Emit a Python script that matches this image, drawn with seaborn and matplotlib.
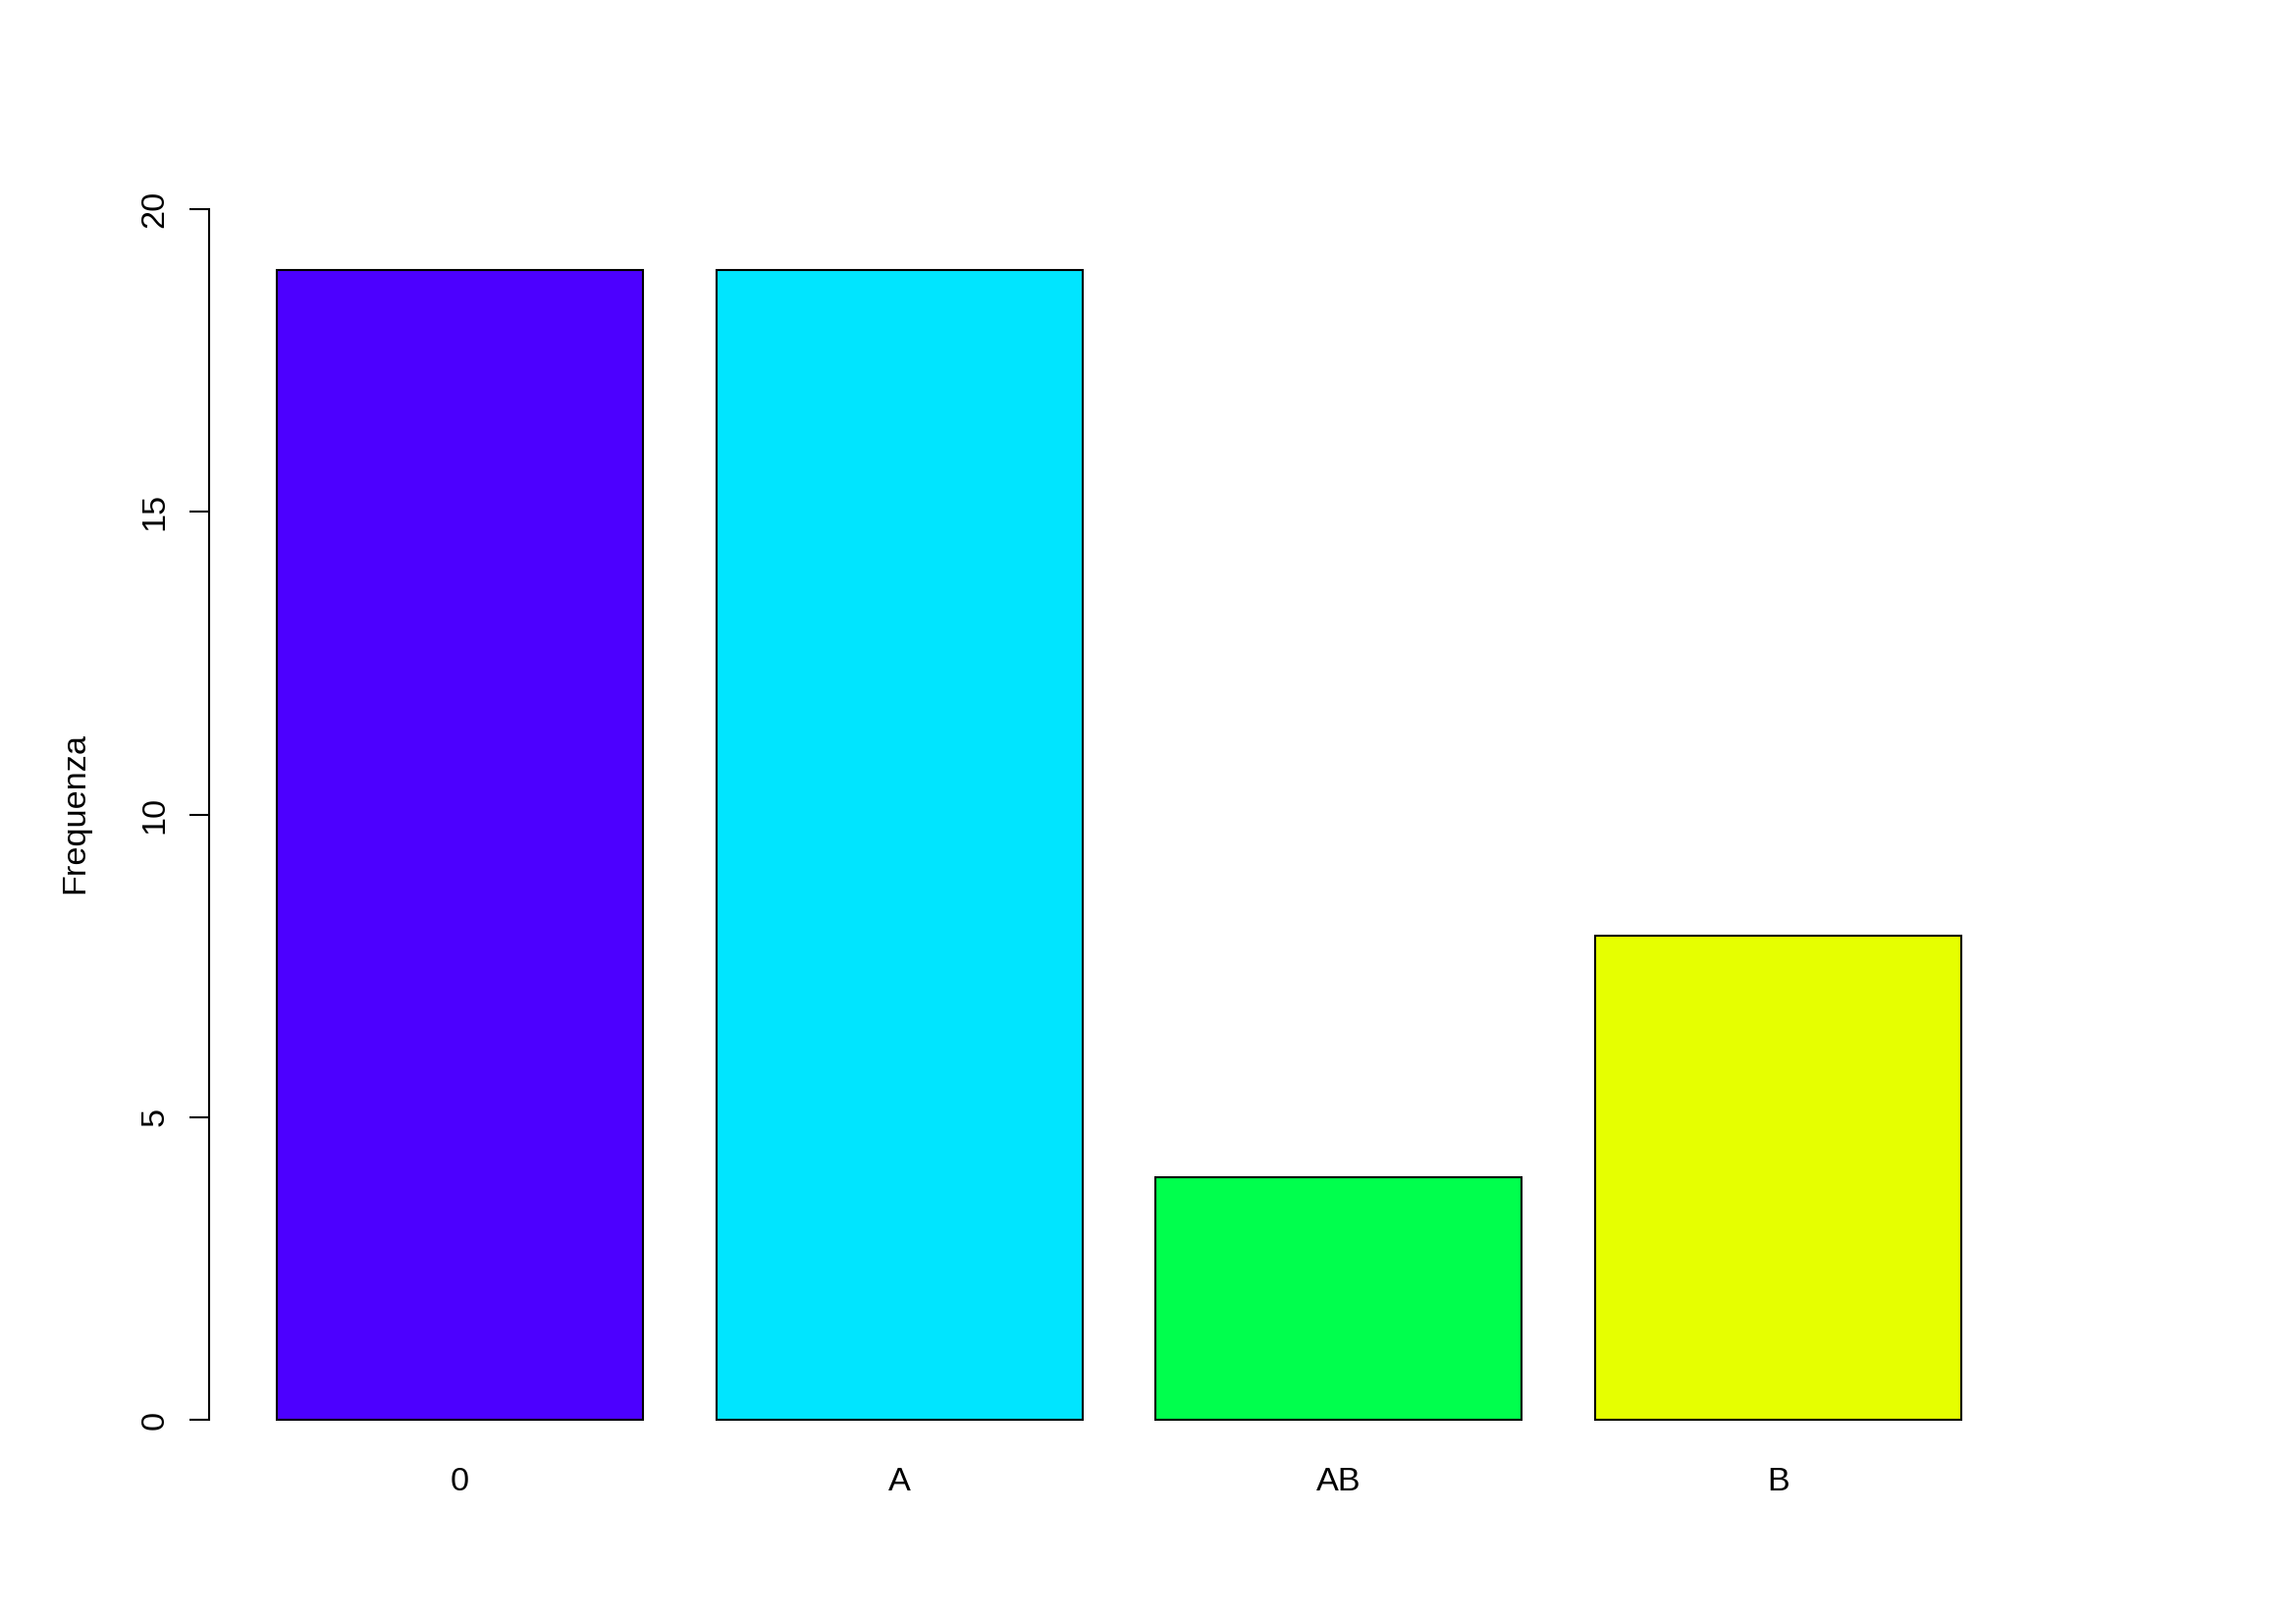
import matplotlib
matplotlib.use("Agg")
import matplotlib.pyplot as plt
import seaborn as sns
import pandas as pd

categories = ["0", "A", "AB", "B"]
values = [19, 19, 4, 8]
colors = ["#4C00FF", "#00E5FF", "#00FF4D", "#E6FF00"]
yticks = [0, 5, 10, 15, 20]
ylabel = "Frequenza"

sns.set_theme(style="white")
plt.rcParams['font.family'] = ['Liberation Sans', 'DejaVu Sans']
plt.rcParams['text.color'] = 'black'
plt.rcParams['xtick.color'] = 'black'
plt.rcParams['ytick.color'] = 'black'
plt.rcParams['axes.labelcolor'] = 'black'

W, H = 2339, 1653
fig = plt.figure(figsize=(W / 100, H / 100), dpi=100)
ax = fig.add_axes([213 / W, 1 - 1495.3 / H, (2065 - 213) / W, (1495.3 - 163.7) / H])

df = pd.DataFrame({"cat": categories, "val": values})
sns.barplot(data=df, x="cat", y="val", hue="cat", palette=colors, legend=False,
            width=1 / 1.2, edgecolor="black", linewidth=1.5, saturation=1, ax=ax)

ax.set_xlim(-0.5706, 3.567)
ax.set_ylim(-0.8, 20.8)
ax.set_xlabel("")
ax.set_ylabel("")
for s in ["top", "right", "bottom"]:
    ax.spines[s].set_visible(False)
ax.spines["left"].set_bounds(0, 20)
ax.spines["left"].set_linewidth(1.5)
ax.spines["left"].set_color("black")
ax.set_yticks(yticks)
ax.set_yticklabels([str(t) for t in yticks], rotation=90, va="center")
ax.tick_params(axis="y", length=14.4, width=1.5, color="black", pad=14,
               labelsize=24.7, left=True, labelcolor="black")
ax.tick_params(axis="x", length=0, pad=-1, labelsize=24.7, labelcolor="black")
ax.grid(False)

fig.text(76.5 / W, 1 - 828.5 / H, ylabel, rotation=90, ha="center", va="center",
         fontsize=24.7, color="black")

fig.savefig("out.png", dpi=100, facecolor="white")
